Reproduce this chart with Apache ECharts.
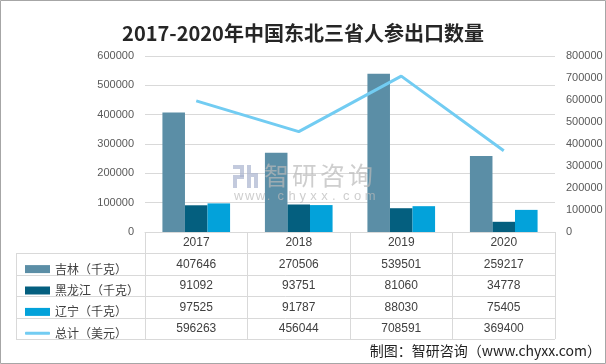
<!DOCTYPE html>
<html>
<head>
<meta charset="utf-8">
<script src="https://cdn.jsdelivr.net/npm/echarts@6/dist/echarts.min.js"></script>
<style>
html,body{margin:0;padding:0;background:#fff;}
#c{width:606px;height:364px;}
</style>
</head>
<body>
<div id="c"></div>
<script>
// ---- data ----
var titleText = '2017-2020年中国东北三省人参出口数量';
var years = ['2017', '2018', '2019', '2020'];
var seriesNames = ['吉林（千克）', '黑龙江（千克）', '辽宁（千克）', '总计（美元）'];
var jilin = [407646, 270506, 539501, 259217];
var heilongjiang = [91092, 93751, 81060, 34778];
var liaoning = [97525, 91787, 88030, 75405];
var total = [596263, 456044, 708591, 369400];
var sourceText = '制图：智研咨询（www.chyxx.com）';
var wmName = '智研咨询';
var wmUrl = 'www.chyxx.com';

// ---- layout / style ----
var FONT = 'Liberation Sans, Noto Sans CJK SC, sans-serif';
var CJK = 'Noto Sans CJK SC, Liberation Sans, sans-serif';
var GL = 145, GR = 555, GT = 56, GB = 232, TL = 16;
var ROW_H = 21.4;
var colors = ['#5b8ea6', '#045f7f', '#03a2da', '#72ccf2'];
var lineColor = '#d9d9d9';

var rows = [jilin, heilongjiang, liaoning, total];
var plain = function (v) { return String(v); };

var xAxes = [{
  type: 'category', data: years, gridIndex: 0, position: 'bottom',
  axisLine: {show: true, lineStyle: {color: lineColor}},
  axisTick: {show: true, alignWithLabel: false, interval: 0, length: ROW_H * 5, lineStyle: {color: lineColor}},
  axisLabel: {margin: 5, color: '#404040', fontSize: 12, fontFamily: FONT},
  splitLine: {show: false}
}];
rows.forEach(function (arr, i) {
  xAxes.push({
    type: 'category', gridIndex: 0, position: 'bottom', offset: ROW_H * (i + 1),
    data: arr.map(String),
    axisLine: {show: false}, axisTick: {show: false}, splitLine: {show: false},
    axisLabel: {margin: 5, color: '#404040', fontSize: 12, fontFamily: FONT, interval: 0}
  });
});

var legends = seriesNames.map(function (n, i) {
  var cy = GB + ROW_H * (i + 1) + ROW_H / 2;
  var isLine = i === 3;
  return {
    data: [isLine ? {name: n, icon: 'roundRect'} : {name: n, icon: 'rect'}],
    left: 20, top: cy - 7, orient: 'horizontal',
    itemWidth: 25, itemHeight: isLine ? 3 : 8, itemGap: 5,
    textStyle: {fontSize: 12, color: '#404040', fontFamily: CJK, lineHeight: 14},
    selectedMode: false
  };
});

var graphics = [];
// outer border
graphics.push({type: 'rect', shape: {x: 0.5, y: 0.5, width: 605, height: 363}, style: {fill: 'none', stroke: '#a6a6a6', lineWidth: 1}, silent: true});
// table horizontal lines
for (var k = 1; k <= 5; k++) {
  var y = Math.round(GB + ROW_H * k) + 0.5;
  graphics.push({type: 'line', shape: {x1: TL, y1: y, x2: GR, y2: y}, style: {stroke: lineColor, lineWidth: 1}, silent: true});
}
graphics.push({type: 'line', shape: {x1: TL + 0.5, y1: Math.round(GB + ROW_H) + 0.5, x2: TL + 0.5, y2: Math.round(GB + ROW_H * 5) + 0.5}, style: {stroke: lineColor, lineWidth: 1}, silent: true});
// source
graphics.push({type: 'text', right: 5, top: 344, style: {text: sourceText, font: '14px ' + CJK, fill: '#222'}, silent: true});
// watermark (drawn above bars, semi-transparent)
var wmFill = '#aab4cf';
var wmChildren = [
  {type: 'rect', shape: {x: 0, y: 0, width: 11, height: 4}, style: {fill: wmFill, opacity: 0.7}},
  {type: 'rect', shape: {x: 7, y: 4, width: 4, height: 8}, style: {fill: wmFill, opacity: 0.7}},
  {type: 'rect', shape: {x: 0, y: 10, width: 11, height: 4}, style: {fill: wmFill, opacity: 0.7}},
  {type: 'rect', shape: {x: 0, y: 14, width: 4, height: 9}, style: {fill: wmFill, opacity: 0.7}},
  {type: 'rect', shape: {x: 14, y: 0, width: 4, height: 23}, style: {fill: wmFill, opacity: 0.7}},
  {type: 'rect', shape: {x: 18, y: 8, width: 7, height: 4}, style: {fill: wmFill, opacity: 0.7}},
  {type: 'rect', shape: {x: 21, y: 12, width: 4, height: 11}, style: {fill: wmFill, opacity: 0.7}}
];
wmName.split('').forEach(function (ch, i) {
  wmChildren.push({type: 'text', x: 31 + i * 28, y: -2, style: {text: ch, font: '25px ' + CJK, fill: '#b9b9b9', opacity: 0.7}});
});
wmUrl.split('').forEach(function (ch, i) {
  wmChildren.push({type: 'text', x: 1 + i * 10.9, y: 25, style: {text: ch, font: '13px ' + FONT, fill: '#b9b9b9', opacity: 0.7}});
});
wmChildren.forEach(function (c) { c.z = 100; c.silent = true; });
graphics.push({type: 'group', left: 233, top: 163, z: 100, silent: true, children: wmChildren});

var barBase = {type: 'bar', xAxisIndex: 0, yAxisIndex: 0, barGap: '0%', barCategoryGap: '34%'};

var option = {
  animation: false,
  backgroundColor: '#fff',
  title: {text: titleText, left: 'center', top: 18, textStyle: {fontSize: 20, fontWeight: 'bold', color: '#262626', fontFamily: CJK}},
  legend: legends,
  grid: {left: GL, right: 606 - GR, top: GT, bottom: 364 - GB, containLabel: false},
  xAxis: xAxes,
  yAxis: [{
    type: 'value', min: 0, max: 600000, interval: 100000, position: 'left',
    axisLine: {show: false}, axisTick: {show: false},
    axisLabel: {color: '#595959', fontSize: 11, fontFamily: FONT, margin: 11, formatter: plain},
    splitLine: {lineStyle: {color: lineColor}}
  }, {
    type: 'value', min: 0, max: 800000, interval: 100000, position: 'right',
    axisLine: {show: false}, axisTick: {show: false},
    axisLabel: {color: '#595959', fontSize: 11, fontFamily: FONT, margin: 11, formatter: plain},
    splitLine: {show: false}
  }],
  series: [
    Object.assign({}, barBase, {name: seriesNames[0], data: jilin, itemStyle: {color: colors[0]}}),
    Object.assign({}, barBase, {name: seriesNames[1], data: heilongjiang, itemStyle: {color: colors[1]}}),
    Object.assign({}, barBase, {name: seriesNames[2], data: liaoning, itemStyle: {color: colors[2]}}),
    {type: 'line', name: seriesNames[3], data: total, xAxisIndex: 0, yAxisIndex: 1, symbol: 'none', showSymbol: false,
     lineStyle: {color: colors[3], width: 3}, itemStyle: {color: colors[3]}, z: 5}
  ],
  graphic: graphics
};

var chart = echarts.init(document.getElementById('c'), null, {renderer: 'canvas'});
chart.setOption(option);
</script>
</body>
</html>
